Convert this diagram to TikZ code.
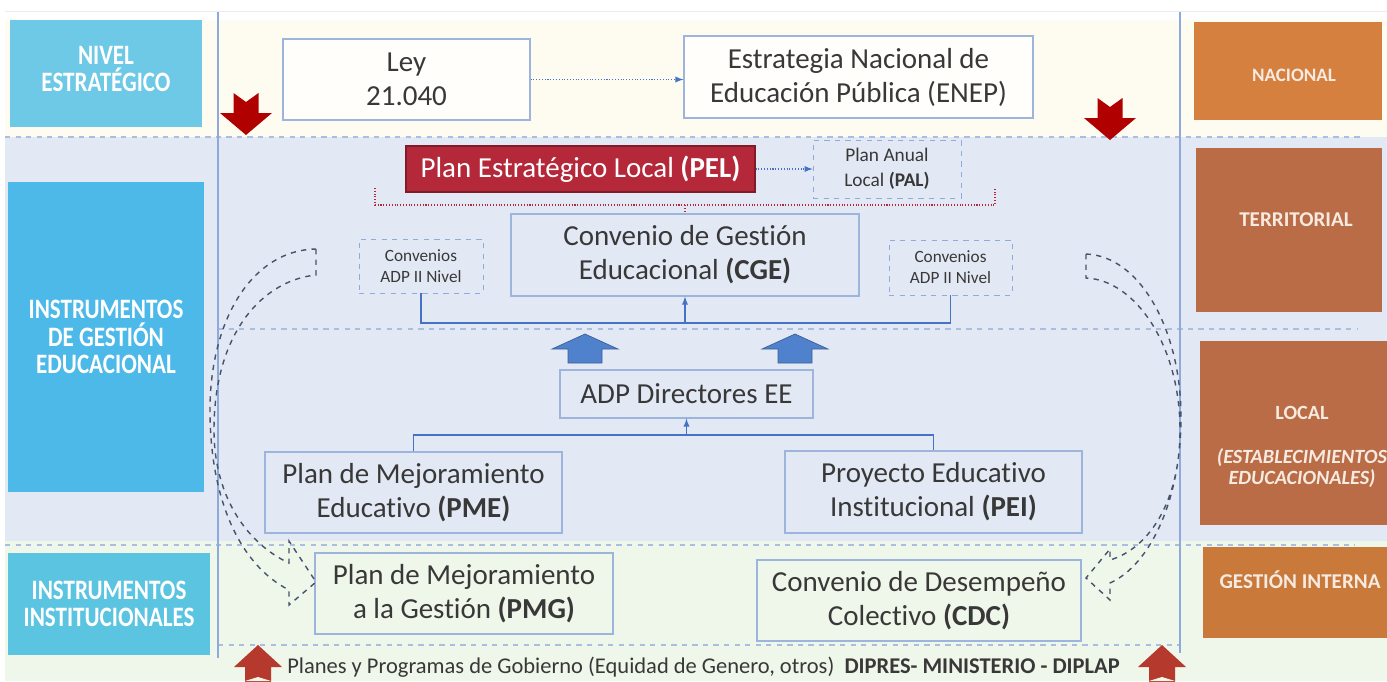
\documentclass[tikz,border=0pt]{standalone}
\usepackage{fontspec}
\setmainfont[Ligatures=NoCommon]{Carlito}
\newfontfamily\condfont[FakeStretch=0.82,Ligatures=NoCommon]{Carlito}
\usetikzlibrary{arrows}

\definecolor{bandyellow}{HTML}{FEFCF0}
\definecolor{bandblue}{HTML}{E3E9F4}
\definecolor{bandgreen}{HTML}{EFF6EA}
\definecolor{linkblue}{HTML}{4472C4}
\definecolor{rulerblue}{HTML}{8EA9DB}
\definecolor{dashblue}{HTML}{A9BEE0}
\definecolor{boxline}{HTML}{9DB4DC}
\definecolor{txtgrey}{HTML}{383838}
\definecolor{pelred}{HTML}{B4283A}
\definecolor{darkred}{HTML}{B00000}
\definecolor{brickred}{HTML}{B5392C}
\definecolor{arrowblue}{HTML}{5081CC}
\definecolor{cyanA}{HTML}{6DC9E6}
\definecolor{cyanB}{HTML}{4DB9E9}
\definecolor{cyanC}{HTML}{5BC4E1}
\definecolor{orangeA}{HTML}{D5803F}
\definecolor{brownB}{HTML}{B96C45}
\definecolor{orangeC}{HTML}{C97A3B}
\definecolor{curvenavy}{HTML}{44546A}
\definecolor{paletext}{HTML}{F7EAE0}

\begin{document}
\begin{tikzpicture}[x=0.02cm,y=-0.02cm,
  box/.style={draw=boxline,line width=0.7pt,align=center,text=txtgrey,inner sep=0pt,
    font=\fontsize{16.5}{19.3}\selectfont},
  smallbox/.style={draw=linkblue!60,dashed,line width=0.5pt,align=center,text=txtgrey,inner sep=0pt,
    font=\fontsize{9.8}{12}\selectfont},
  leftbox/.style={align=center,text=white,inner sep=0pt,
    font=\condfont\bfseries\fontsize{16}{15.5}\selectfont},
  rightbox/.style={align=center,text=paletext,inner sep=0pt,
    font=\bfseries\fontsize{12}{12.5}\selectfont},
  link/.style={draw=linkblue,line width=0.6pt},
  band/.style={draw=dashblue,dashed,line width=0.6pt},
  curvearrow/.style={draw=curvenavy,dashed,line width=0.8pt}]

\fill[white] (0,0) rectangle (1387,681);
\useasboundingbox (0,0) rectangle (1387,681);
\fill[bandyellow] (5,20) rectangle (1387,137);
\fill[bandblue] (5,137) rectangle (1387,541);
\fill[bandgreen] (5,541) rectangle (1387,681);
\draw[black!8] (5,11) -- (1387,11);

% level lines
\draw[band] (5,137) -- (1360,137);
\draw[band] (218,329) -- (1358,329);
\draw[band] (5,545) -- (1355,545);
\draw[band] (218,645) -- (1180,645);
\draw[rulerblue,line width=0.7pt] (218,12) -- (218,658);
\draw[rulerblue,line width=0.7pt] (1180,12) -- (1180,653);

% left column
\node[leftbox,fill=cyanA,minimum width=3.84cm,minimum height=2.14cm] (nivel) at (106,73.5) {};
\node[leftbox] (niveltxt) at (106,69) {NIVEL\\ESTRATÉGICO};
\node[leftbox,fill=cyanB,minimum width=3.92cm,minimum height=6.2cm] (gestion) at (106,337) {INSTRUMENTOS\\DE GESTIÓN\\EDUCACIONAL};
\node[leftbox,fill=cyanC,minimum width=4.04cm,minimum height=2.04cm] (instit) at (109,604) {INSTRUMENTOS\\INSTITUCIONALES};

% right column
\node[rightbox,fill=orangeA,minimum width=3.76cm,minimum height=1.96cm,font=\bfseries\fontsize{10.8}{12.5}\selectfont] (nacional) at (1288,71) {};
\node[rightbox,font=\bfseries\fontsize{10.8}{12.5}\selectfont] (nacionaltxt) at (1294,75) {NACIONAL};
\node[rightbox,fill=brownB,minimum width=3.72cm,minimum height=3.28cm] (territorial) at (1289,230) {};
\node[rightbox] (territorialtxt) at (1296,220) {TERRITORIAL};
\node[rightbox,fill=brownB,minimum width=3.74cm,minimum height=3.68cm] (local) at (1293.5,433) {};
\node[rightbox,font=\bfseries\fontsize{11.5}{12}\selectfont] (localtxt) at (1302,447) {LOCAL\\[13pt]\textit{(ESTABLECIMIENTOS}\\\textit{EDUCACIONALES)}};
\node[rightbox,fill=orangeC,minimum width=3.68cm,minimum height=1.82cm] (interna) at (1295,592.5) {};
\node[rightbox] (internatxt) at (1300,580) {GESTIÓN INTERNA};

% strategic level
\node[box,fill=white!70!bandyellow,minimum width=4.94cm,minimum height=1.62cm] (ley) at (406.5,79.5) {Ley\\21.040};
\node[box,fill=white!70!bandyellow,minimum width=6.98cm,minimum height=1.64cm] (enep) at (858.5,77) {Estrategia Nacional de\\Educación Pública (ENEP)};
\draw[link,densely dotted,-latex] (ley.east) -- (ley.east -| enep.west);

% territorial
\node[box,draw=pelred!70!black,fill=pelred,text=white,minimum width=6.98cm,minimum height=0.92cm] (pel) at (580.5,169) {Plan Estratégico Local \textbf{(PEL)}};
\node[smallbox,fill=bandblue,minimum width=2.96cm,minimum height=1.16cm,font=\fontsize{11}{14}\selectfont] (pal) at (887,169) {Plan Anual\\Local \textbf{(PAL)}};
\draw[link,densely dotted,-latex] (pel.east) -- (pal.west);

\node[box,fill=bandblue,minimum width=6.96cm,minimum height=1.64cm] (cge) at (685,255) {Convenio de Gestión\\Educacional \textbf{(CGE)}};
\node[smallbox,fill=bandblue,minimum width=2.48cm,minimum height=1.08cm] (convizq) at (421,266) {Convenios\\ADP II Nivel};
\node[smallbox,fill=bandblue,minimum width=2.46cm,minimum height=1.1cm] (convder) at (950.5,267.5) {Convenios\\ADP II Nivel};

\coordinate (bracketmid) at (685,205);
\draw[pelred,densely dotted,line width=0.6pt] (375,188) -- (375,205) -- (995,205) -- (995,188);
\draw[pelred,densely dotted,line width=0.7pt] (bracketmid) -- (cge.north);

\coordinate (cgejoin) at (685,323);
\draw[link] (convizq.south) |- (cgejoin) -| (convder.south);
\draw[link,-latex] (cgejoin) -- (cge.south);

% local
\foreach \ax in {585,795}
  \draw[arrowblue!75!black,fill=arrowblue,line width=0.4pt]
    ({\ax-17},363) -- ({\ax-17},349) -- ({\ax-33},349) -- (\ax,334)
    -- ({\ax+33},349) -- ({\ax+17},349) -- ({\ax+17},363) -- cycle;

\node[box,fill=bandblue,minimum width=5.06cm,minimum height=0.96cm] (adp) at (686.5,394) {ADP Directores EE};
\node[box,fill=bandblue,minimum width=5.94cm,minimum height=1.62cm] (pme) at (413.5,492.5) {Plan de Mejoramiento\\Educativo \textbf{(PME)}};
\node[box,fill=bandblue,minimum width=5.94cm,minimum height=1.64cm] (pei) at (933.5,492) {Proyecto Educativo\\Institucional \textbf{(PEI)}};

\coordinate (adpjoin) at (686.5,435);
\draw[link] (pme.north) |- (adpjoin) -| (pei.north);
\draw[link,-latex] (adpjoin) -- (adp.south);

% institutional
\node[box,fill=bandgreen,minimum width=5.96cm,minimum height=1.62cm] (pmg) at (464,593.5) {Plan de Mejoramiento\\a la Gestión \textbf{(PMG)}};
\node[box,fill=bandgreen,minimum width=6.48cm,minimum height=1.62cm] (cdc) at (919,600.5) {Convenio de Desempeño\\Colectivo \textbf{(CDC)}};

\node[text=txtgrey,font=\fontsize{12.8}{15}\selectfont,inner sep=0pt] (planes) at (703.5,667)
  {Planes y Programas de Gobierno (Equidad de Genero, otros)\ \ \textbf{DIPRES- MINISTERIO - DIPLAP}};

% red arrows
\foreach \ax/\ay in {246/93,1110/98}
  \fill[darkred] ({\ax-12.5},\ay) -- (\ax,{\ay+9}) -- ({\ax+12.5},\ay) -- ({\ax+12.5},{\ay+20})
    -- ({\ax+26},{\ay+20}) -- (\ax,{\ay+42}) -- ({\ax-26},{\ay+20}) -- ({\ax-12.5},{\ay+20}) -- cycle;
\foreach \ax in {258,1162}
  \fill[brickred] ({\ax-13},690) -- ({\ax-13},667) -- ({\ax-24},667) -- (\ax,645)
    -- ({\ax+24},667) -- ({\ax+13},667) -- ({\ax+13},690) -- cycle;
\fill[bandgreen] (245,681) -- (258,677) -- (271,681) -- cycle;
\fill[bandgreen] (1149,681) -- (1162,677) -- (1175,681) -- cycle;

% curved dashed arrows
\draw[curvearrow] (316,249) -- (316,275) .. controls (265,280) and (214,330) .. (214,430)
  .. controls (214,500) and (250,545) .. (289,563) -- (289,541) -- (316,582) -- (289,605) -- (289,590)
  .. controls (240,565) and (210,500) .. (210,410) .. controls (210,320) and (252,250) .. cycle;
\draw[curvearrow] (1086,254) -- (1086,278) .. controls (1135,280) and (1180,345) .. (1180,430)
  .. controls (1180,500) and (1150,548) .. (1110,560) -- (1110,549) -- (1086,578) -- (1110,600) -- (1110,583)
  .. controls (1150,565) and (1181,500) .. (1181,417) .. controls (1181,330) and (1140,256) .. cycle;
\end{tikzpicture}
\end{document}
